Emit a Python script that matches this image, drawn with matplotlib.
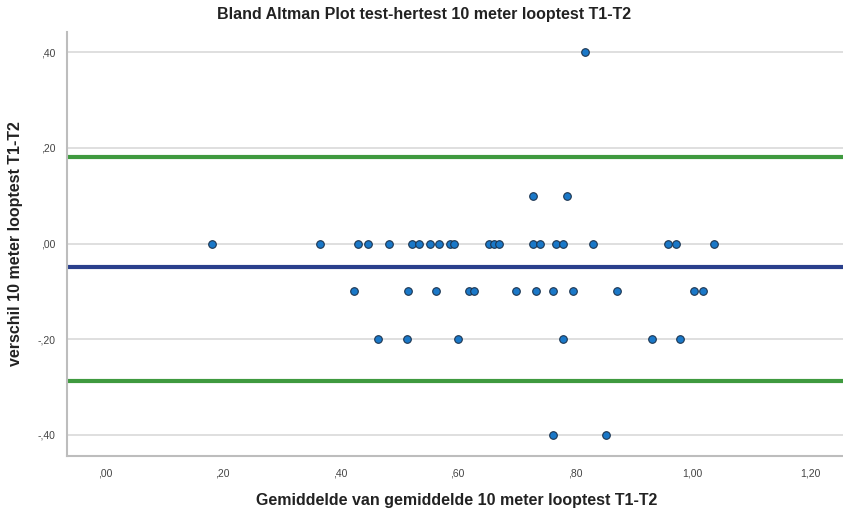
import matplotlib
matplotlib.use('Agg')
import matplotlib.pyplot as plt

plt.rcParams['font.family'] = ['Liberation Sans', 'DejaVu Sans']

# gemiddelde (x) and verschil (y) per deelnemer
gem_000 = [0.182, 0.365, 0.431, 0.448, 0.483, 0.522, 0.535, 0.553, 0.569, 0.587,
           0.594, 0.654, 0.662, 0.671, 0.729, 0.740, 0.768, 0.780, 0.831, 0.958,
           0.972, 1.037]
gem_010 = [0.729, 0.786]
gem_040 = [0.817]
gem_m010 = [0.424, 0.516, 0.564, 0.620, 0.628, 0.700, 0.734, 0.763, 0.797, 0.872,
            1.003, 1.017]
gem_m020 = [0.464, 0.514, 0.600, 0.779, 0.931, 0.979]
gem_m040 = [0.762, 0.853]

gemiddelde = gem_000 + gem_010 + gem_040 + gem_m010 + gem_m020 + gem_m040
verschil = ([0.0] * len(gem_000) + [0.1] * len(gem_010) + [0.4] * len(gem_040)
            + [-0.1] * len(gem_m010) + [-0.2] * len(gem_m020) + [-0.4] * len(gem_m040))

mean_diff = -0.049
loa_upper = 0.180
loa_lower = -0.288

x_ticks = [0.0, 0.2, 0.4, 0.6, 0.8, 1.0, 1.2]
x_labels = [',00', ',20', ',40', ',60', ',80', '1,00', '1,20']
y_ticks = [-0.4, -0.2, 0.0, 0.2, 0.4]
y_labels = ['-,40', '-,20', ',00', ',20', ',40']

fig = plt.figure(figsize=(8.43, 5.13), dpi=100)
ax = fig.add_axes([67 / 843, 1 - 456 / 513, 776 / 843, 424 / 513])

ax.set_xlim(-0.065, 1.256)
ax.set_ylim(-0.444, 0.442)

for yt in y_ticks:
    ax.axhline(yt, color='#d9d9d9', lw=1.2, zorder=1)

ax.axhline(loa_upper, color='#3f9a3f', lw=3, zorder=2)
ax.axhline(loa_lower, color='#3f9a3f', lw=3, zorder=2)
ax.axhline(mean_diff, color='#2a3f8c', lw=3, zorder=2)

ax.scatter(gemiddelde, verschil, s=30, color='#1a78c8', edgecolors='#1d3550',
           linewidths=0.8, zorder=3)

ax.set_xticks(x_ticks)
ax.set_xticklabels(x_labels)
ax.set_yticks(y_ticks)
ax.set_yticklabels(y_labels)
ax.tick_params(length=0, labelsize=7.5, labelcolor='#444444')
ax.tick_params(axis='x', pad=9)
ax.tick_params(axis='y', pad=8)

for side in ['top', 'right']:
    ax.spines[side].set_visible(False)
for side in ['left', 'bottom']:
    ax.spines[side].set_color('#bdbdbd')
    ax.spines[side].set_linewidth(1.5)

fig.text(424 / 843, 1 - 15 / 513, 'Bland Altman Plot test-hertest 10 meter looptest T1-T2',
         ha='center', va='center', fontsize=11.5, fontweight='bold', color='#222222')
fig.text(457 / 843, 1 - 500 / 513, 'Gemiddelde van gemiddelde 10 meter looptest T1-T2',
         ha='center', va='center', fontsize=11.5, fontweight='bold', color='#222222')
fig.text(16 / 843, 1 - 244 / 513, 'verschil 10 meter looptest T1-T2', rotation=90,
         ha='center', va='center', fontsize=11.5, fontweight='bold', color='#222222')

fig.savefig('out.png', dpi=100)
